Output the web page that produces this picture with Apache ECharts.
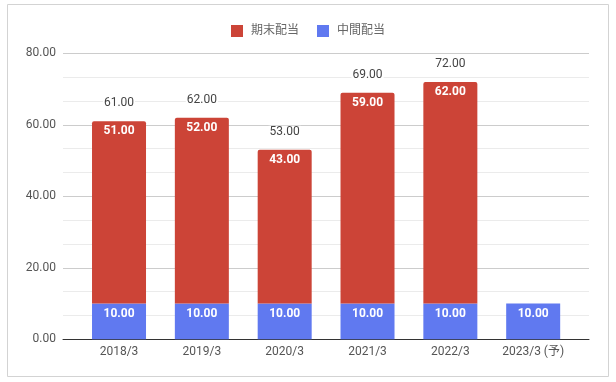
<!DOCTYPE html>
<html><head><meta charset="utf-8">
<script src="https://cdn.jsdelivr.net/npm/echarts@6/dist/echarts.min.js"></script>
<style>html,body{margin:0;padding:0;background:#fff}#c{width:616px;height:382px}</style>
</head><body><div id="c"></div>
<script>
const categories = ['2018/3','2019/3','2020/3','2021/3','2022/3','2023/3 (予)'];
const interimDividend = [10,10,10,10,10,10];
const yearEndDividend = [51,52,43,59,62,null];
const totals = [61,62,53,69,72,null];
const seriesNames = ['期末配当','中間配当'];

const FONT = 'Roboto, "Noto Sans CJK JP", sans-serif';
const chart = echarts.init(document.getElementById('c'), null, {renderer:'canvas'});
const gridTop = 53.3, gridH = 286;
chart.setOption({
  animation:false,
  textStyle:{fontFamily:FONT},
  graphic:[{type:'rect',shape:{x:7.5,y:4.5,width:601,height:372},style:{fill:'none',stroke:'#d3d3d3',lineWidth:1},z:-10}],
  legend:{
    data:seriesNames, top:20, left:'center', icon:'rect', itemWidth:12, itemHeight:12, itemGap:18,
    textStyle:{color:'#666',fontSize:12,fontFamily:FONT,padding:[0,0,0,3]}
  },
  grid:[
    {left:63, right:27, top:gridTop, height:gridH},
    {left:77.6, right:41.4, top:gridTop, height:gridH}
  ],
  xAxis:[
    {gridIndex:0,type:'value',min:0,max:1,axisLabel:{show:false},axisTick:{show:false},splitLine:{show:false},
     axisLine:{show:true,lineStyle:{color:'#333',width:1}}},
    {gridIndex:1,type:'category',data:categories,axisLine:{show:false},axisTick:{show:false},
     axisLabel:{color:'#555',fontSize:12,margin:7,fontFamily:FONT}}
  ],
  yAxis:[
    {gridIndex:0,type:'value',min:0,max:80,interval:20,
     axisLabel:{color:'#555',fontSize:12,margin:7,formatter:v=>v.toFixed(2),fontFamily:FONT},
     axisLine:{show:false},axisTick:{show:false},
     splitLine:{lineStyle:{color:'#cccccc'}},
     minorTick:{show:false,splitNumber:3},
     minorSplitLine:{show:true,lineStyle:{color:'#ebebeb'}}},
    {gridIndex:1,type:'value',min:0,max:80,interval:20,show:false,splitLine:{show:false}}
  ],
  series:[
    {name:'中間配当',type:'bar',xAxisIndex:1,yAxisIndex:1,stack:'d',barWidth:54,
     data:interimDividend,itemStyle:{color:'#6079f0'},
     label:{show:true,position:'insideTop',distance:4,color:'#fff',fontWeight:'bold',fontSize:12,
       formatter:p=>p.value.toFixed(2)}},
    {name:'期末配当',type:'bar',xAxisIndex:1,yAxisIndex:1,stack:'d',barWidth:54,
     data:yearEndDividend.map(v=>v==null?'-':v),itemStyle:{color:'#cc4437',borderRadius:[2,2,0,0]},
     label:{show:true,position:'insideTop',distance:4,color:'#fff',fontWeight:'bold',fontSize:12,
       formatter:p=>Number(p.value).toFixed(2)}},
    {name:'total',type:'bar',xAxisIndex:1,yAxisIndex:1,stack:'d',barWidth:54,
     data:totals.map(v=>v==null?'-':0),itemStyle:{color:'transparent'},
     label:{show:true,position:'top',distance:12,color:'#444',fontSize:12,backgroundColor:'#fff',padding:[0,1],
       formatter:p=>totals[p.dataIndex].toFixed(2)}}
  ]
});
</script></body></html>
